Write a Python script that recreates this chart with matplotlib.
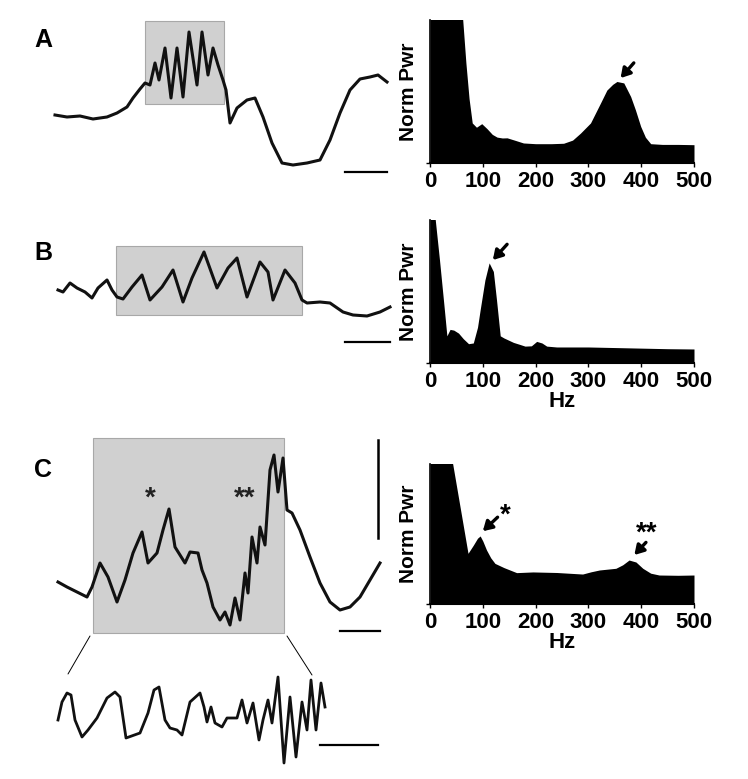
import numpy as np
import matplotlib
matplotlib.use("Agg")
import matplotlib.pyplot as plt
from matplotlib.patches import Rectangle, ConnectionPatch

plt.rcParams['font.family'] = ['Liberation Sans', 'DejaVu Sans']

W, H = 748, 779   # figure size in pixels (dpi 100)

# ---- traces (local time / amplitude units) ----
trace_a_t = [5, 17, 30, 43, 57, 67, 77, 83, 90, 95, 100, 105, 109, 115, 121, 127, 133, 139,
             147, 152, 158, 163, 168, 173, 176, 180, 187, 197, 205, 213, 222, 232, 243, 257,
             270, 280, 290, 300, 310, 320, 328, 337]
trace_a_v = [65, 63, 64, 61, 63, 67, 73, 82, 91, 97, 95, 117, 100, 132, 82, 132, 83, 148,
             95, 148, 105, 132, 115, 100, 90, 57, 72, 80, 82, 63, 37, 17, 15, 17,
             20, 40, 67, 90, 101, 103, 105, 98]

trace_b_t = [8, 13, 20, 27, 35, 42, 48, 57, 62, 67, 73, 82, 92, 100, 112, 123, 133, 142,
             154, 167, 178, 187, 197, 210, 218, 223, 235, 245, 252, 257, 270, 280, 293,
             303, 317, 330, 340]
trace_b_v = [60, 58, 67, 62, 58, 52, 62, 70, 60, 53, 51, 63, 75, 50, 63, 80, 48, 72,
             98, 62, 82, 92, 53, 88, 78, 50, 80, 67, 50, 47, 48, 47, 38,
             35, 34, 38, 43]

trace_c_t = [8, 17, 27, 37, 42, 50, 58, 67, 75, 83, 92, 98, 107, 113, 119, 125, 135, 140,
             148, 152, 157, 163, 170, 175, 180, 185, 190, 195, 198, 202, 207, 210, 215,
             220, 224, 228, 233, 237, 242, 250, 260, 270, 280, 290, 300, 310, 320, 330]
trace_c_v = [58, 53, 48, 43, 53, 77, 63, 38, 60, 87, 108, 77, 87, 110, 131, 93, 77, 88,
             87, 70, 57, 33, 20, 28, 15, 42, 20, 67, 47, 103, 77, 113, 95,
             170, 185, 148, 182, 130, 127, 110, 83, 57, 38, 30, 33, 43, 60, 77]

zoom_t = [8, 12, 17, 21, 25, 32, 38, 47, 57, 65, 70, 76, 90, 98, 104, 109, 115, 120, 127,
          132, 140, 150, 154, 157, 161, 165, 172, 177, 187, 192, 197, 203, 209, 213, 218,
          222, 228, 234, 240, 246, 252, 257, 261, 266, 271, 275]
zoom_v = [59, 77, 86, 84, 59, 42, 49, 61, 81, 87, 82, 41, 46, 66, 89, 92, 59, 51, 49,
          44, 77, 86, 72, 57, 72, 56, 52, 61, 61, 79, 56, 76, 39, 59, 79,
          56, 102, 16, 82, 22, 77, 49, 99, 49, 96, 72]

# ---- power spectra ----
freq_a = [0, 20, 40, 55, 62, 68, 74, 80, 88, 98, 108, 118, 127, 137, 146, 160, 177, 200,
          230, 253, 270, 285, 304, 323, 335, 346, 354, 367, 380, 389, 399, 408, 418, 440,
          470, 500]
pwr_a = [1.5, 1.5, 1.4, 1.2, 1.0, 0.7, 0.45, 0.28, 0.25, 0.275, 0.24, 0.2, 0.181, 0.175,
         0.176, 0.16, 0.14, 0.135, 0.135, 0.138, 0.16, 0.209, 0.28, 0.42, 0.51, 0.55, 0.57,
         0.56, 0.465, 0.372, 0.256, 0.18, 0.135, 0.13, 0.13, 0.128]

freq_b = [0, 5, 10, 18, 26, 32, 38, 45, 54, 63, 73, 82, 90, 95, 104, 112, 120, 126, 133,
          140, 158, 170, 180, 192, 202, 212, 221, 240, 259, 300, 350, 400, 450, 500]
pwr_b = [1.3, 1.15, 1.0, 0.72, 0.42, 0.19, 0.235, 0.23, 0.209, 0.17, 0.135, 0.14, 0.25,
         0.372, 0.58, 0.70, 0.64, 0.44, 0.19, 0.175, 0.144, 0.13, 0.118, 0.12, 0.151, 0.14,
         0.118, 0.112, 0.112, 0.112, 0.108, 0.104, 0.1, 0.098]

freq_c = [0, 20, 43, 72, 82, 90, 95, 100, 107, 115, 123, 140, 164, 195, 240, 289, 305,
          321, 352, 365, 377, 390, 403, 418, 434, 470, 500]
pwr_c = [1.3, 1.3, 1.0, 0.362, 0.42, 0.47, 0.486, 0.45, 0.386, 0.33, 0.29, 0.26, 0.224,
         0.229, 0.225, 0.214, 0.23, 0.243, 0.255, 0.28, 0.314, 0.3, 0.255, 0.22, 0.207,
         0.205, 0.207]

freq_ticks = [0, 100, 200, 300, 400, 500]


def px_axes(fig, left, top, right, bottom):
    """Axes placed by pixel box, with local units of one pixel."""
    ax = fig.add_axes([left / W, 1 - bottom / H, (right - left) / W, (bottom - top) / H])
    ax.set_xlim(0, right - left)
    ax.set_ylim(0, bottom - top)
    ax.axis('off')
    return ax


def trace_panel(ax, t, v, box, bar, lw=2.2):
    if box is not None:
        x0, y0, x1, y1 = box
        ax.add_patch(Rectangle((x0, y0), x1 - x0, y1 - y0, facecolor='#d0d0d0',
                               edgecolor='#a8a8a8', lw=0.8, zorder=1))
    ax.plot(t, v, color='#111111', lw=lw, zorder=2, solid_joinstyle='round')
    ax.plot(bar[:2], [bar[2], bar[2]], color='black', lw=1.6)


def spectrum_panel(fig, top, bottom, freq, pwr, hz_label):
    ax = fig.add_axes([430 / W, 1 - bottom / H, 264 / W, (bottom - top) / H])
    ax.fill_between(freq, pwr, color='black', lw=0)
    ax.set_xlim(0, 500)
    ax.set_ylim(0, 1)
    ax.set_xticks(freq_ticks)
    ax.set_yticks([0])
    ax.set_yticklabels([])
    ax.spines['top'].set_visible(False)
    ax.spines['right'].set_visible(False)
    ax.spines['left'].set_linewidth(1.2)
    ax.spines['bottom'].set_linewidth(1.5)
    ax.tick_params(labelsize=16, length=3, width=1, pad=3)
    for lab in ax.get_xticklabels():
        lab.set_fontweight('bold')
    ax.set_ylabel('Norm Pwr', fontsize=15, fontweight='bold', labelpad=3)
    if hz_label:
        ax.set_xlabel('Hz', fontsize=16, fontweight='bold', labelpad=-1)
    return ax


def arrow(ax, tip, tail):
    ax.annotate('', xy=tip, xytext=tail,
                arrowprops=dict(arrowstyle='-|>,head_length=0.55,head_width=0.33',
                                color='black', lw=2.4, shrinkA=0, shrinkB=0))


fig = plt.figure(figsize=(W / 100, H / 100), dpi=100)

# panel letters
for letter, y in [('A', 40), ('B', 253), ('C', 470)]:
    fig.text(43 / W, 1 - y / H, letter, fontsize=18, fontweight='bold',
             ha='center', va='center')

# A
ax = px_axes(fig, 50, 15, 400, 180)
trace_panel(ax, trace_a_t, trace_a_v, (95, 76, 174, 159), (295, 337, 8))
ax = spectrum_panel(fig, 20, 163, freq_a, pwr_a, False)
arrow(ax, (361, 0.594), (386, 0.70))

# B
ax = px_axes(fig, 50, 235, 400, 350)
trace_panel(ax, trace_b_t, trace_b_v, (66, 35, 252, 104), (295, 340, 8))
ax = spectrum_panel(fig, 220, 363, freq_b, pwr_b, True)
arrow(ax, (119, 0.72), (146, 0.83))

# C
ax_c = px_axes(fig, 50, 435, 400, 640)
trace_panel(ax_c, trace_c_t, trace_c_v, (43, 7, 234, 202), (290, 330, 9))
ax_c.plot([328, 328], [102, 200], color='black', lw=1.8)
ax_c.text(100, 141, '*', fontsize=20, fontweight='bold', ha='center', va='center',
          color='#222222')
ax_c.text(195, 141, '**', fontsize=20, fontweight='bold', ha='center', va='center',
          color='#222222')

ax_z = px_axes(fig, 50, 660, 400, 779)
trace_panel(ax_z, zoom_t, zoom_v, None, (270, 328, 34), lw=2.0)
for start, end in [((40, 4), (18, 105)), ((237, 4), (262, 104))]:
    con = ConnectionPatch(xyA=start, coordsA=ax_c.transData, xyB=end,
                          coordsB=ax_z.transData, color='black', lw=0.7)
    fig.add_artist(con)

ax = spectrum_panel(fig, 464, 604, freq_c, pwr_c, True)
arrow(ax, (100, 0.52), (128, 0.62))
ax.text(142, 0.63, '*', fontsize=20, fontweight='bold', ha='center', va='center')
arrow(ax, (387, 0.35), (409, 0.44))
ax.text(411, 0.5, '**', fontsize=20, fontweight='bold', ha='center', va='center')

fig.savefig('out.png', dpi=100)
